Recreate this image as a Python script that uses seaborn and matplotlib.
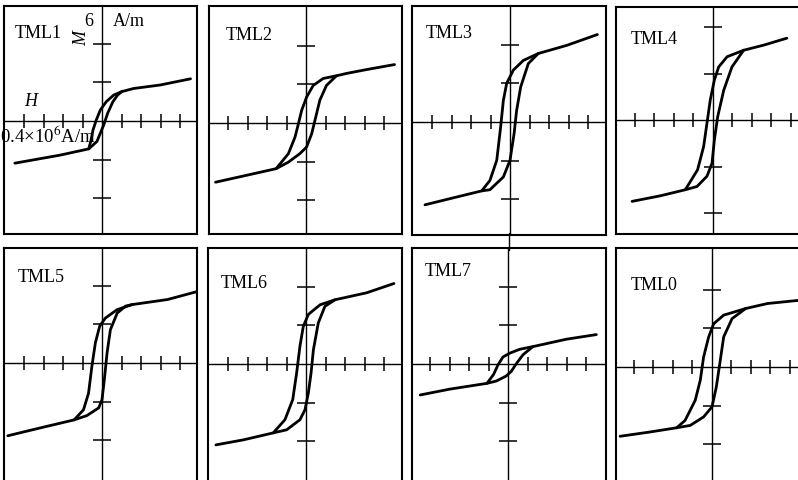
import numpy as np
import pandas as pd
import matplotlib
matplotlib.use("Agg")
import matplotlib.pyplot as plt
from matplotlib.lines import Line2D
import seaborn as sns

panel_names = ["TML1", "TML2", "TML3", "TML4", "TML5", "TML6", "TML7", "TML0"]
h_ticks = [-4, -3, -2, -1, 1, 2, 3, 4]
m_ticks = [-2, -1, 1, 2]

tml1_up_h = [4.54, 2.98, 1.62, 1.02, 0.60, 0.22, -0.09, -0.29, -0.46, -0.56, -0.68, -2.13, -4.47]
tml1_up_m = [1.09, 0.93, 0.84, 0.76, 0.67, 0.50, 0.28, 0.03, -0.23, -0.49, -0.72, -0.88, -1.09]
tml1_lo_h = [-0.68, -0.26, -0.09, 0.09, 0.29, 0.56, 0.80, 1.02]
tml1_lo_m = [-0.72, -0.53, -0.32, -0.10, 0.20, 0.50, 0.67, 0.76]

tml2_up_h = [4.54, 3.10, 2.07, 1.56, 0.88, 0.37, 0.03, -0.22, -0.39, -0.56, -0.90, -1.53, -2.86, -4.64]
tml2_up_m = [1.51, 1.38, 1.28, 1.22, 1.15, 0.97, 0.67, 0.33, -0.02, -0.36, -0.79, -1.18, -1.33, -1.53]
tml2_lo_h = [-1.53, -0.90, -0.31, 0.03, 0.29, 0.46, 0.71, 1.05, 1.56]
tml2_lo_m = [-1.18, -1.01, -0.79, -0.62, -0.28, 0.07, 0.59, 0.97, 1.22]

tml3_up_h = [4.48, 2.91, 1.45, 0.68, 0.17, -0.17, -0.34, -0.48, -0.68, -1.03, -1.45, -2.91, -4.36]
tml3_up_m = [2.26, 1.98, 1.77, 1.59, 1.34, 1.00, 0.56, -0.13, -0.99, -1.51, -1.78, -1.96, -2.14]
tml3_lo_h = [-1.45, -1.03, -0.34, 0.00, 0.21, 0.34, 0.55, 0.94, 1.45]
tml3_lo_m = [-1.78, -1.75, -1.42, -0.99, -0.30, 0.30, 0.91, 1.51, 1.77]

tml4_up_h = [3.79, 2.60, 1.57, 0.72, 0.29, 0.07, -0.14, -0.31, -0.48, -0.79, -1.42, -2.70, -4.15]
tml4_up_m = [1.76, 1.61, 1.50, 1.36, 1.14, 0.86, 0.43, -0.07, -0.57, -1.07, -1.50, -1.63, -1.75]
tml4_lo_h = [-1.42, -0.82, -0.31, -0.05, 0.07, 0.24, 0.55, 0.97, 1.57]
tml4_lo_m = [-1.50, -1.43, -1.21, -0.93, -0.43, 0.07, 0.64, 1.14, 1.50]

tml5_up_h = [4.91, 3.36, 1.55, 0.78, 0.17, -0.12, -0.34, -0.52, -0.69, -0.95, -1.43, -3.19, -4.83]
tml5_up_m = [1.85, 1.64, 1.51, 1.38, 1.16, 0.95, 0.52, -0.09, -0.78, -1.21, -1.47, -1.68, -1.88]
tml5_lo_h = [-1.43, -0.78, -0.17, 0.00, 0.12, 0.26, 0.43, 0.78, 1.21, 1.55]
tml5_lo_m = [-1.47, -1.36, -1.16, -0.95, -0.43, 0.26, 0.86, 1.29, 1.47, 1.51]

tml6_up_h = [4.51, 3.11, 1.49, 0.72, 0.12, -0.14, -0.31, -0.48, -0.68, -1.08, -1.68, -3.21, -4.62]
tml6_up_m = [2.08, 1.84, 1.66, 1.53, 1.28, 0.97, 0.46, -0.23, -0.92, -1.44, -1.78, -1.96, -2.09]
tml6_lo_h = [-1.68, -0.99, -0.31, -0.05, 0.12, 0.26, 0.38, 0.63, 0.97, 1.49]
tml6_lo_m = [-1.78, -1.70, -1.44, -1.18, -0.75, -0.23, 0.37, 1.06, 1.49, 1.66]

tml7_up_h = [4.53, 2.99, 1.28, 0.60, 0.09, -0.26, -0.51, -0.74, -1.08, -2.99, -4.50]
tml7_up_m = [0.76, 0.64, 0.45, 0.38, 0.28, 0.18, -0.02, -0.27, -0.50, -0.65, -0.80]
tml7_lo_h = [-1.08, -0.60, -0.09, 0.17, 0.43, 0.77, 1.28]
tml7_lo_m = [-0.50, -0.44, -0.31, -0.19, 0.01, 0.24, 0.45]

tml0_up_h = [4.40, 2.84, 1.72, 0.60, 0.09, -0.17, -0.43, -0.60, -0.86, -1.38, -1.81, -3.19, -4.71]
tml0_up_m = [1.72, 1.64, 1.51, 1.34, 1.12, 0.78, 0.26, -0.34, -0.86, -1.38, -1.57, -1.68, -1.79]
tml0_lo_h = [-1.81, -1.12, -0.43, 0.00, 0.22, 0.40, 0.60, 1.03, 1.72]
tml0_lo_m = [-1.57, -1.51, -1.29, -1.03, -0.52, 0.09, 0.78, 1.25, 1.51]

branches = {
    "TML1": (tml1_up_h, tml1_up_m, tml1_lo_h, tml1_lo_m),
    "TML2": (tml2_up_h, tml2_up_m, tml2_lo_h, tml2_lo_m),
    "TML3": (tml3_up_h, tml3_up_m, tml3_lo_h, tml3_lo_m),
    "TML4": (tml4_up_h, tml4_up_m, tml4_lo_h, tml4_lo_m),
    "TML5": (tml5_up_h, tml5_up_m, tml5_lo_h, tml5_lo_m),
    "TML6": (tml6_up_h, tml6_up_m, tml6_lo_h, tml6_lo_m),
    "TML7": (tml7_up_h, tml7_up_m, tml7_lo_h, tml7_lo_m),
    "TML0": (tml0_up_h, tml0_up_m, tml0_lo_h, tml0_lo_m),
}

# --- layout in pixels (scanned figure, panels not perfectly aligned) ---
W, H = 798, 480
# box: left, top, right, bottom ; origin: x, y ; px per M tick
boxes = [(4, 6, 197, 234), (209, 6, 402, 234), (412, 6, 606, 235), (616, 7, 803, 234),
         (4, 248, 197, 486), (208, 248, 402, 486), (412, 248, 606, 486), (616, 248, 803, 486)]
origins = [(102, 121), (306, 123), (510, 122), (713, 120),
           (102, 363), (306, 364), (508, 364), (712, 367)]
py_list = [38.7, 38.7, 38.7, 46.5, 38.7, 38.7, 38.7, 38.7]
PX = 19.5
label_pos = [(15, 33), (226, 35), (426, 33), (631, 40), (18, 278), (221, 283), (425, 271), (631, 285)]

sns.set_style("white")
plt.rcParams['font.family'] = ['Liberation Serif', 'DejaVu Serif']
plt.rcParams['mathtext.fontset'] = 'stix'
plt.rcParams['text.color'] = 'black'

fig = plt.figure(figsize=(W / 100, H / 100), dpi=100)

for i, name in enumerate(panel_names):
    l, t, r, b = boxes[i]
    ox, oy = origins[i]
    py = py_list[i]
    ax = fig.add_axes([l / W, 1 - b / H, (r - l) / W, (b - t) / H])
    ax.set_xlim((l - ox) / PX, (r - ox) / PX)
    ax.set_ylim((oy - b) / py, (oy - t) / py)
    ax.set_xticks([])
    ax.set_yticks([])
    for s in ax.spines.values():
        s.set_color("black")
        s.set_linewidth(1.5)
        s.set_visible(True)
    ax.axhline(0, color="black", lw=1.0)
    ax.axvline(0, color="black", lw=1.0)
    ax.plot(h_ticks, [0] * len(h_ticks), ls="none", marker="|", ms=10, mew=1.1, color="black")
    ax.plot([0] * len(m_ticks), m_ticks, ls="none", marker="_", ms=13, mew=1.1, color="black")

    up_h, up_m, lo_h, lo_m = branches[name]
    up = pd.DataFrame({"H": up_h, "M": up_m})
    lo = pd.DataFrame({"H": lo_h, "M": lo_m})
    sns.lineplot(data=up, x="H", y="M", sort=False, estimator=None, color="black", lw=2.0, ax=ax)
    sns.lineplot(data=lo, x="H", y="M", sort=False, estimator=None, color="black", lw=2.0, ax=ax)
    ax.set_xlabel("")
    ax.set_ylabel("")

    lx, ly = label_pos[i]
    fig.text(lx / W, 1 - ly / H, name, fontsize=13, color="black", ha="left", va="center")

# shared vertical line joining TML3 and TML7 axes through the gap
fig.add_artist(Line2D([509 / W, 509 / W], [1 - 250 / H, 1 - 233 / H], color="black", lw=1.0))

# axis annotations in the first panel
fig.text(89 / W, 1 - 22 / H, "6", fontsize=13, color="black", ha="center", va="center")
fig.text(113 / W, 1 - 22 / H, "A/m", fontsize=13, color="black", ha="left", va="center")
fig.text(82 / W, 1 - 38 / H, "M", fontsize=13, fontstyle="italic", color="black",
         rotation=90, ha="center", va="center")
fig.text(31 / W, 1 - 102 / H, "H", fontsize=13, fontstyle="italic", color="black",
         ha="center", va="center")
fig.text(0 / W, 1 - 136 / H, "0.4×10$^6$A/m", fontsize=13.5, color="black", ha="left", va="center")

fig.savefig("out.png", dpi=100, facecolor="white")
